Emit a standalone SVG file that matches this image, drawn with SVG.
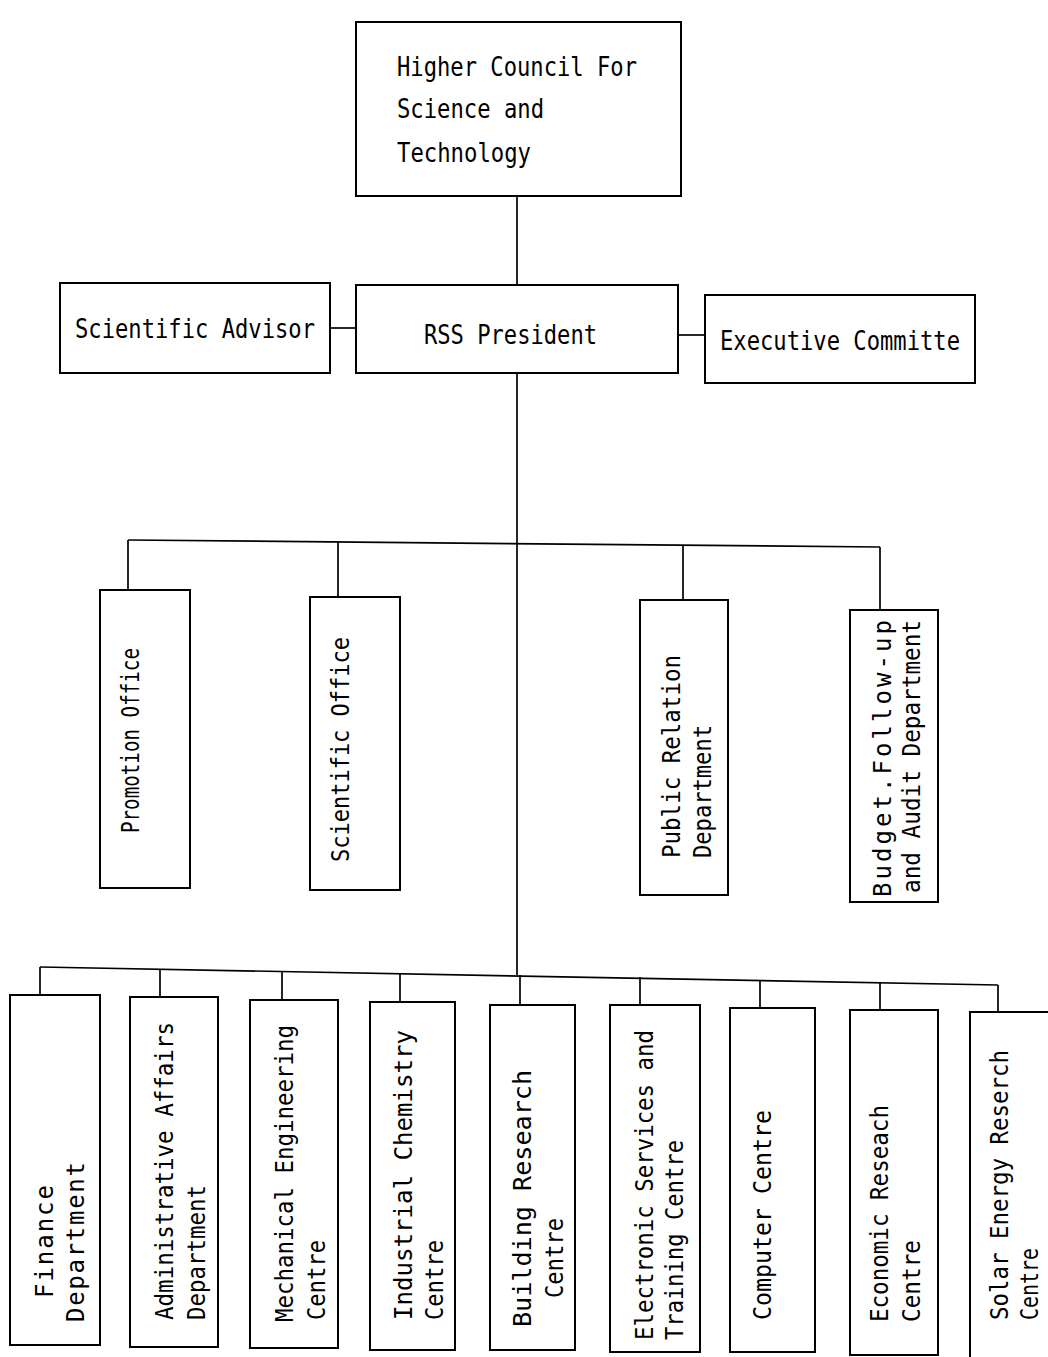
<svg xmlns="http://www.w3.org/2000/svg" width="1048" height="1357" viewBox="0 0 1048 1357">
<style>
.box{fill:#fff;stroke:#000;stroke-width:2}
.ln{fill:none;stroke:#000;stroke-width:1.7}
text{font-family:"DejaVu Sans Mono","Liberation Mono",monospace;font-size:24px;fill:#000}
.h{font-size:26px}
</style>
<rect width="1048" height="1357" fill="#fff"/>
<g id="connectors">
<line class="ln" x1="517" y1="196" x2="517" y2="285"/>
<line class="ln" x1="330" y1="328" x2="356" y2="328"/>
<line class="ln" x1="678" y1="335" x2="705" y2="335"/>
<line class="ln" x1="517" y1="373" x2="517" y2="975"/>
<polyline class="ln" points="128,540 880,547"/>
<line class="ln" x1="128" y1="540" x2="128" y2="590"/>
<line class="ln" x1="338" y1="542" x2="338" y2="597"/>
<line class="ln" x1="683" y1="545" x2="683" y2="600"/>
<line class="ln" x1="880" y1="547" x2="880" y2="610"/>
<polyline class="ln" points="40,967 998,985"/>
<line class="ln" x1="40" y1="967" x2="40" y2="995"/>
<line class="ln" x1="160" y1="969" x2="160" y2="997"/>
<line class="ln" x1="282" y1="971" x2="282" y2="1000"/>
<line class="ln" x1="400" y1="973" x2="400" y2="1002"/>
<line class="ln" x1="520" y1="975" x2="520" y2="1005"/>
<line class="ln" x1="640" y1="977" x2="640" y2="1005"/>
<line class="ln" x1="760" y1="980" x2="760" y2="1008"/>
<line class="ln" x1="880" y1="982" x2="880" y2="1010"/>
<line class="ln" x1="998" y1="985" x2="998" y2="1012"/>
</g>
<g id="higher-council">
<rect class="box" x="356" y="22" width="325" height="174"/>
<text class="h" x="397" y="76" textLength="240" lengthAdjust="spacingAndGlyphs">Higher Council For</text>
<text class="h" x="397" y="118" textLength="147" lengthAdjust="spacingAndGlyphs">Science and</text>
<text class="h" x="397" y="162" textLength="134" lengthAdjust="spacingAndGlyphs">Technology</text>
</g>
<g id="scientific-advisor">
<rect class="box" x="60" y="283" width="270" height="90"/>
<text class="h" x="75" y="338" textLength="240" lengthAdjust="spacingAndGlyphs">Scientific Advisor</text>
</g>
<g id="rss-president">
<rect class="box" x="356" y="285" width="322" height="88"/>
<text class="h" x="424" y="344" textLength="173" lengthAdjust="spacingAndGlyphs">RSS President</text>
</g>
<g id="executive-committe">
<rect class="box" x="705" y="295" width="270" height="88"/>
<text class="h" x="720" y="350" textLength="240" lengthAdjust="spacingAndGlyphs">Executive Committe</text>
</g>
<g id="promotion-office">
<rect class="box" x="100" y="590" width="90" height="298"/>
<text transform="translate(139,833) rotate(-90)" textLength="185" lengthAdjust="spacingAndGlyphs">Promotion Office</text>
</g>
<g id="scientific-office">
<rect class="box" x="310" y="597" width="90" height="293"/>
<text transform="translate(349,862) rotate(-90)" textLength="225" lengthAdjust="spacingAndGlyphs">Scientific Office</text>
</g>
<g id="public-relation">
<rect class="box" x="640" y="600" width="88" height="295"/>
<text transform="translate(680,858) rotate(-90)" textLength="203" lengthAdjust="spacingAndGlyphs">Public Relation</text>
<text transform="translate(711,858) rotate(-90)" textLength="133" lengthAdjust="spacingAndGlyphs">Department</text>
</g>
<g id="budget">
<rect class="box" x="850" y="610" width="88" height="292"/>
<text transform="translate(891,897) rotate(-90)" textLength="277" lengthAdjust="spacing">Budget.Follow-up</text>
<text transform="translate(920,893) rotate(-90)" textLength="273" lengthAdjust="spacingAndGlyphs">and Audit Department</text>
</g>
<g id="finance">
<rect class="box" x="10" y="995" width="90" height="350"/>
<text transform="translate(53,1298) rotate(-90)" textLength="113" lengthAdjust="spacing">Finance</text>
<text transform="translate(84,1322) rotate(-90)" textLength="160" lengthAdjust="spacing">Department</text>
</g>
<g id="administrative">
<rect class="box" x="130" y="997" width="88" height="350"/>
<text transform="translate(173,1320) rotate(-90)" textLength="298" lengthAdjust="spacingAndGlyphs">Administrative Affairs</text>
<text transform="translate(205,1320) rotate(-90)" textLength="135" lengthAdjust="spacingAndGlyphs">Department</text>
</g>
<g id="mechanical">
<rect class="box" x="250" y="1000" width="88" height="348"/>
<text transform="translate(293,1322) rotate(-90)" textLength="297" lengthAdjust="spacingAndGlyphs">Mechanical Engineering</text>
<text transform="translate(325,1320) rotate(-90)" textLength="80" lengthAdjust="spacingAndGlyphs">Centre</text>
</g>
<g id="industrial">
<rect class="box" x="370" y="1002" width="85" height="348"/>
<text transform="translate(412,1320) rotate(-90)" textLength="290" lengthAdjust="spacingAndGlyphs">Industrial Chemistry</text>
<text transform="translate(443,1320) rotate(-90)" textLength="80" lengthAdjust="spacingAndGlyphs">Centre</text>
</g>
<g id="building">
<rect class="box" x="490" y="1005" width="85" height="345"/>
<text transform="translate(531,1327) rotate(-90)" textLength="257" lengthAdjust="spacingAndGlyphs">Building Research</text>
<text transform="translate(563,1298) rotate(-90)" textLength="80" lengthAdjust="spacingAndGlyphs">Centre</text>
</g>
<g id="electronic">
<rect class="box" x="610" y="1005" width="90" height="347"/>
<text transform="translate(653,1340) rotate(-90)" textLength="310" lengthAdjust="spacingAndGlyphs">Electronic Services and</text>
<text transform="translate(683,1340) rotate(-90)" textLength="200" lengthAdjust="spacingAndGlyphs">Training Centre</text>
</g>
<g id="computer">
<rect class="box" x="730" y="1008" width="85" height="344"/>
<text transform="translate(771,1320) rotate(-90)" textLength="210" lengthAdjust="spacingAndGlyphs">Computer Centre</text>
</g>
<g id="economic">
<rect class="box" x="850" y="1010" width="88" height="345"/>
<text transform="translate(888,1322) rotate(-90)" textLength="217" lengthAdjust="spacingAndGlyphs">Economic Reseach</text>
<text transform="translate(920,1322) rotate(-90)" textLength="82" lengthAdjust="spacingAndGlyphs">Centre</text>
</g>
<g id="solar">
<rect class="box" x="970" y="1012" width="90" height="350"/>
<text transform="translate(1008,1320) rotate(-90)" textLength="270" lengthAdjust="spacingAndGlyphs">Solar Energy Reserch</text>
<text transform="translate(1038,1320) rotate(-90)" textLength="72" lengthAdjust="spacingAndGlyphs">Centre</text>
</g>
</svg>
